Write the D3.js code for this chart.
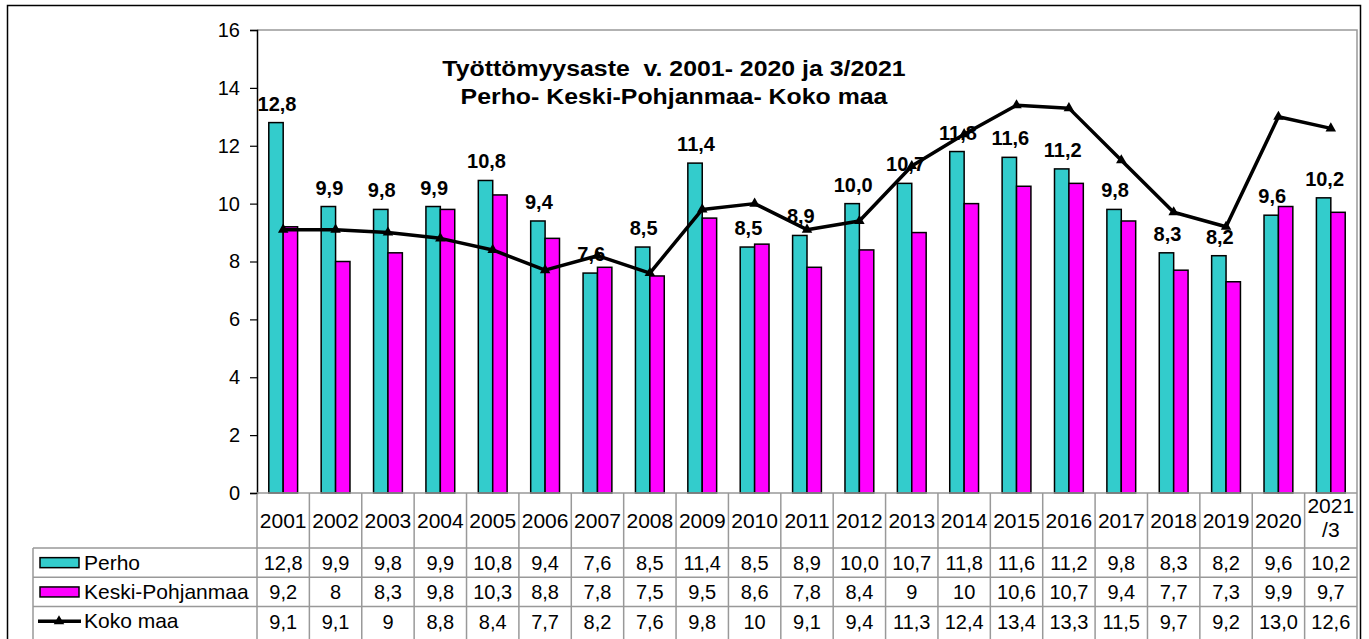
<!DOCTYPE html>
<html>
<head>
<meta charset="utf-8">
<script src="https://cdn.jsdelivr.net/npm/d3@7"></script>
<style>
body { margin: 0; background: #fff; }
text { font-family: Arial, "Liberation Sans", sans-serif; }
</style>
</head>
<body>
<div id="chart"></div>
<script>
var w = 1369;
var h = 639;

// data
var years = ["2001", "2002", "2003", "2004", "2005", "2006", "2007", "2008", "2009", "2010",
	"2011", "2012", "2013", "2014", "2015", "2016", "2017", "2018", "2019", "2020", "2021/3"];
var perho = [12.8, 9.9, 9.8, 9.9, 10.8, 9.4, 7.6, 8.5, 11.4, 8.5, 8.9, 10.0, 10.7, 11.8, 11.6, 11.2, 9.8, 8.3, 8.2, 9.6, 10.2];
var keski = [9.2, 8, 8.3, 9.8, 10.3, 8.8, 7.8, 7.5, 9.5, 8.6, 7.8, 8.4, 9, 10, 10.6, 10.7, 9.4, 7.7, 7.3, 9.9, 9.7];
var kokoMaa = [9.1, 9.1, 9, 8.8, 8.4, 7.7, 8.2, 7.6, 9.8, 10, 9.1, 9.4, 11.3, 12.4, 13.4, 13.3, 11.5, 9.7, 9.2, 13.0, 12.6];
var seriesNames = ["Perho", "Keski-Pohjanmaa", "Koko maa"];
var yTicks = [0, 2, 4, 6, 8, 10, 12, 14, 16];
var titleLines = ["Työttömyysaste  v. 2001- 2020 ja 3/2021", "Perho- Keski-Pohjanmaa- Koko maa"];

// table text: 1 decimal where the source showed it
var perhoTxt = perho.map(function (d) { return d.toFixed(1).replace(".", ","); });
var keskiTxt = keski.map(function (d) { return String(d).replace(".", ","); });
var kokoTxt = kokoMaa.map(function (d, i) {
	return (i >= 19 ? d.toFixed(1) : String(d)).replace(".", ",");
});

var tealColor = "#33CCCC";
var pinkColor = "#FF00FF";

var plotLeft = 257, plotRight = 1357, plotTop = 30, plotBottom = 493;
var rowH = 29.3;
var headerBottom = 548;

var svg = d3.select("#chart").append("svg")
	.attr("width", w)
	.attr("height", h);

// outer frame
svg.append("rect")
	.attr("x", 7.5).attr("y", 5.5)
	.attr("width", 1353).attr("height", 700)
	.attr("fill", "none").attr("stroke", "#000").attr("stroke-width", 1.5);

var x = d3.scaleBand()
	.domain(years)
	.range([plotLeft, plotRight])
	.paddingInner(0.45)
	.paddingOuter(0.225);

var xs = d3.scaleBand()
	.domain(["p", "k"])
	.range([0, x.bandwidth()]);

var y = d3.scaleLinear()
	.domain([0, 16])
	.range([plotBottom, plotTop]);

// plot area border (top / right)
svg.append("path")
	.attr("d", "M" + plotLeft + "," + plotTop + "H" + plotRight + "V" + plotBottom)
	.attr("fill", "none").attr("stroke", "#999").attr("stroke-width", 1.5);

// bars
var barData = [];
years.forEach(function (yr, i) {
	barData.push({ year: yr, key: "p", value: perho[i] });
	barData.push({ year: yr, key: "k", value: keski[i] });
});

svg.selectAll("rect.bar")
	.data(barData)
	.enter()
	.append("rect")
	.attr("class", "bar")
	.attr("x", function (d) { return x(d.year) + xs(d.key); })
	.attr("y", function (d) { return y(d.value); })
	.attr("width", xs.bandwidth())
	.attr("height", function (d) { return y(0) - y(d.value); })
	.attr("fill", function (d) { return d.key == "p" ? tealColor : pinkColor; })
	.attr("stroke", "#000")
	.attr("stroke-width", 1.5);

// y axis
var yAxis = svg.append("g")
	.attr("transform", "translate(" + plotLeft + ",0)")
	.call(d3.axisLeft(y).tickValues(yTicks).tickSize(7).tickPadding(10));
yAxis.select(".domain").attr("stroke", "#000").attr("stroke-width", 1.5);
yAxis.selectAll(".tick line").attr("stroke", "#000").attr("stroke-width", 1.2);
yAxis.selectAll(".tick text")
	.attr("font-size", "20px")
	.attr("fill", "#000")
	.style("font-family", "Arial, 'Liberation Sans', sans-serif");

// Koko maa line
var cx = function (i) { return x(years[i]) + x.bandwidth() / 2; };
var line = d3.line()
	.x(function (d, i) { return cx(i); })
	.y(function (d) { return y(d); });

svg.append("path")
	.datum(kokoMaa)
	.attr("d", line)
	.attr("fill", "none")
	.attr("stroke", "#000")
	.attr("stroke-width", 3.5)
	.attr("stroke-linejoin", "round");

var tri = d3.symbol().type(d3.symbolTriangle).size(48);
svg.selectAll("path.marker")
	.data(kokoMaa)
	.enter()
	.append("path")
	.attr("class", "marker")
	.attr("d", tri)
	.attr("transform", function (d, i) { return "translate(" + cx(i) + "," + y(d) + ")"; })
	.attr("fill", "#000");

// data labels above Perho bars
svg.selectAll("text.lbl")
	.data(perho)
	.enter()
	.append("text")
	.attr("class", "lbl")
	.attr("x", function (d, i) { return x(years[i]) + xs("p") + xs.bandwidth() / 2 + 1; })
	.attr("y", function (d) { return y(d) - 12; })
	.attr("text-anchor", "middle")
	.attr("font-size", "20px")
	.attr("font-weight", "bold")
	.text(function (d) { return d.toFixed(1).replace(".", ","); });

// title (Excel stretched it sideways a bit)
svg.append("g")
	.attr("transform", "translate(674,0) scale(1.13,1)")
	.selectAll("text.title")
	.data(titleLines)
	.enter()
	.append("text")
	.attr("class", "title")
	.attr("x", 0)
	.attr("y", function (d, i) { return 76 + i * 28; })
	.attr("text-anchor", "middle")
	.attr("font-size", "22px")
	.attr("font-weight", "bold")
	.style("white-space", "pre")
	.text(function (d) { return d; });

// data table
var grid = svg.append("g")
	.attr("stroke", "#999")
	.attr("stroke-width", 1.5)
	.attr("fill", "none");

var step = x.step();
var colEdges = d3.range(years.length + 1).map(function (i) { return plotLeft + i * step; });
var tableBottom = headerBottom + rowH * 3;

colEdges.forEach(function (cxe, i) {
	if (i == 0) return;
	grid.append("line")
		.attr("x1", cxe).attr("x2", cxe)
		.attr("y1", plotBottom).attr("y2", tableBottom + 20);
});
grid.append("line")
	.attr("x1", plotLeft).attr("x2", plotLeft)
	.attr("y1", plotBottom + 1).attr("y2", tableBottom + 20);
grid.append("line")
	.attr("x1", plotLeft).attr("x2", plotRight)
	.attr("y1", plotBottom).attr("y2", plotBottom);
[0, 1, 2].forEach(function (r) {
	grid.append("line")
		.attr("x1", 33).attr("x2", plotRight)
		.attr("y1", headerBottom + r * rowH).attr("y2", headerBottom + r * rowH);
});
grid.append("line")
	.attr("x1", 33).attr("x2", 33)
	.attr("y1", headerBottom).attr("y2", tableBottom + 20);

// header texts
svg.selectAll("text.hdr")
	.data(years)
	.enter()
	.append("text")
	.attr("class", "hdr")
	.attr("x", function (d) { return x(d) + x.bandwidth() / 2; })
	.attr("y", function (d) { return d.indexOf("/") > 0 ? 513 : 528; })
	.attr("text-anchor", "middle")
	.attr("font-size", "21px")
	.each(function (d) {
		var parts = d.indexOf("/") > 0 ? [d.split("/")[0], "/" + d.split("/")[1]] : [d];
		var t = d3.select(this);
		parts.forEach(function (p, j) {
			t.append("tspan")
				.attr("x", x(d) + x.bandwidth() / 2)
				.attr("dy", j == 0 ? 0 : 24)
				.text(p);
		});
	});

var rows = [perhoTxt, keskiTxt, kokoTxt];
rows.forEach(function (row, r) {
	svg.selectAll("text.row" + r)
		.data(row)
		.enter()
		.append("text")
		.attr("class", "row" + r)
		.attr("x", function (d, i) { return x(years[i]) + x.bandwidth() / 2; })
		.attr("y", headerBottom + r * rowH + 22)
		.attr("text-anchor", "middle")
		.attr("font-size", "20px")
		.text(function (d) { return d; });
});

// legend keys in the table
var legY = function (r) { return headerBottom + r * rowH + rowH / 2; };
svg.append("rect")
	.attr("x", 40).attr("y", legY(0) - 5).attr("width", 39).attr("height", 10)
	.attr("fill", tealColor).attr("stroke", "#000").attr("stroke-width", 1.5);
svg.append("rect")
	.attr("x", 40).attr("y", legY(1) - 5).attr("width", 39).attr("height", 10)
	.attr("fill", pinkColor).attr("stroke", "#000").attr("stroke-width", 1.5);
svg.append("line")
	.attr("x1", 38).attr("x2", 81).attr("y1", legY(2)).attr("y2", legY(2))
	.attr("stroke", "#000").attr("stroke-width", 3.5);
svg.append("path")
	.attr("d", tri)
	.attr("transform", "translate(59," + legY(2) + ")");

svg.selectAll("text.leg")
	.data(seriesNames)
	.enter()
	.append("text")
	.attr("class", "leg")
	.attr("x", 84)
	.attr("y", function (d, i) { return legY(i) + 7; })
	.attr("font-size", "21px")
	.text(function (d) { return d; });
</script>
</body>
</html>
